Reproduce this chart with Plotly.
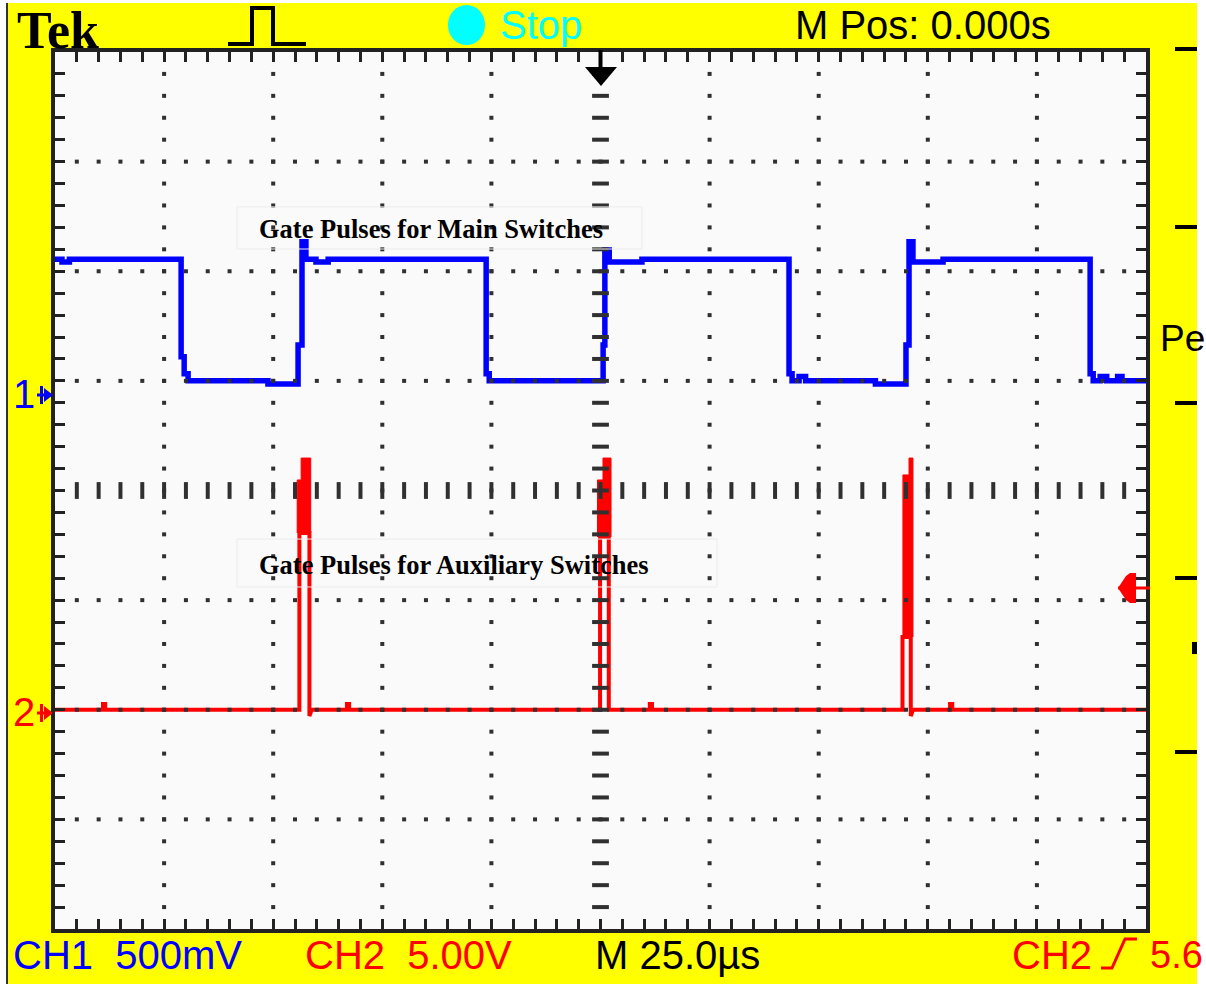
import numpy as np
import plotly.graph_objects as go

TIME_PER_DIV_US = 25.0      # M 25.0 µs
CH1_VOLTS_PER_DIV = 0.5     # CH1 500 mV/div
CH2_VOLTS_PER_DIV = 5.0     # CH2 5.00 V/div
CH1_POS_DIV = 0.87          # CH1 ground marker (divisions above centre)
CH2_POS_DIV = -2.0          # CH2 ground marker

# CH1 : gate pulses for main switches (time in µs, volts)
CH1_T = [-125.0, -123.4, -123.4, -121.7, -121.7, -96.1, -96.1, -95.4, -95.4, -94.5,
         -94.5, -76.2, -76.2, -69.3, -69.3, -68.4, -68.4, -67.5, -67.5, -65.2,
         -65.2, -62.4, -62.4, -26.2, -26.2, -25.5, -25.5, 0.6, 0.6, 1.0,
         1.0, 2.0, 2.0, 9.5, 9.5, 43.2, 43.2, 43.9, 43.9, 45.5,
         45.5, 47.0, 47.0, 63.0, 63.0, 70.0, 70.0, 70.7, 70.7, 71.6,
         71.6, 78.5, 78.5, 112.2, 112.2, 112.9, 112.9, 114.5, 114.5, 116.0,
         116.0, 118.5, 118.5, 119.5, 119.5, 125.0]
CH1_V = [0.62, 0.62, 0.607, 0.607, 0.62, 0.62, 0.175, 0.175, 0.097, 0.097,
         0.065, 0.065, 0.051, 0.051, 0.229, 0.229, 0.699, 0.699, 0.62, 0.62,
         0.607, 0.607, 0.62, 0.62, 0.097, 0.097, 0.065, 0.065, 0.229, 0.229,
         0.662, 0.662, 0.607, 0.607, 0.62, 0.62, 0.097, 0.097, 0.065, 0.065,
         0.085, 0.085, 0.065, 0.065, 0.051, 0.051, 0.229, 0.229, 0.699, 0.699,
         0.607, 0.607, 0.62, 0.62, 0.097, 0.097, 0.065, 0.065, 0.085, 0.085,
         0.065, 0.065, 0.085, 0.085, 0.065, 0.065]

# CH2 : gate pulses for auxiliary switches (time in µs, volts)
CH2_T = [-125.0, -114.0, -114.0, -113.5, -113.5, -69.0, -69.0, -66.7, -66.7, -66.2,
         -58.1, -58.1, -57.6, -57.6, -0.1, -0.1, 1.9, 1.9, 11.3, 11.3,
         11.8, 11.8, 69.2, 69.2, 71.1, 71.1, 71.6, 80.1, 80.1, 80.6,
         80.6, 125.0]
CH2_V = [0.0, 0.0, 0.26, 0.26, 0.0, 0.0, 8.06, 8.06, -0.29, 0.0,
         0.0, 0.26, 0.26, 0.0, 0.0, 7.88, 7.88, 0.0, 0.0, 0.26,
         0.26, 0.0, 0.0, 3.32, 3.32, -0.29, 0.0, 0.0, 0.26, 0.26,
         0.0, 0.0]

# solid (envelope) part of each auxiliary pulse
PULSE1_T = [-69.5, -69.5, -68.6, -68.6, -66.4, -66.4]
PULSE1_V = [8.06, 10.48, 10.48, 11.48, 11.48, 8.06]
PULSE2_T = [-0.69, -0.69, 0.57, 0.57, 2.41, 2.41]
PULSE2_V = [7.88, 10.48, 10.48, 11.48, 11.48, 7.88]
PULSE3_T = [69.3, 69.3, 70.7, 70.7, 71.6, 71.6]
PULSE3_V = [3.32, 10.71, 10.71, 11.48, 11.48, 3.32]

# ---------------- layout geometry ----------------
FIG_W, FIG_H = 1206, 984
ML, MR, MT, MB = 55, 60, 52, 55
PW = FIG_W - ML - MR
PH = FIG_H - MT - MB
N_HDIV, N_VDIV = 10, 8
X_HALF = N_HDIV / 2 * TIME_PER_DIV_US
Y_HALF = N_VDIV / 2

BLUE, RED, YEL, CYAN = "#0000ff", "#ff0000", "#ffff00", "#00ffff"
GRID = "#303030"
SCOPE_FONT = "Liberation Sans Narrow, Arial Narrow, Liberation Sans, Arial, sans-serif"
SCOPE_SIZE = 40
SERIF = "Liberation Serif, Times New Roman, serif"


def px(x, y):
    return (x - ML) / PW, 1 - (y - MT) / PH


def path(points, close=False):
    s = ""
    for i, (x, y) in enumerate(points):
        xp, yp = px(x, y)
        s += ("M" if i == 0 else "L") + f"{xp:.5f},{yp:.5f} "
    return s + ("Z" if close else "")


shapes = []
annotations = []


def add_path(points, color, width=0, fill=None, close=False):
    d = dict(type="path", xref="paper", yref="paper", path=path(points, close),
             line=dict(color=color, width=width), layer="above")
    if fill:
        d["fillcolor"] = fill
    shapes.append(d)


def add_rect(x0, y0, x1, y1, color):
    a = px(x0, y1)
    b = px(x1, y0)
    shapes.append(dict(type="rect", xref="paper", yref="paper", x0=a[0], y0=a[1],
                       x1=b[0], y1=b[1], fillcolor=color, line=dict(width=0), layer="above"))


def label(text, x, y, color, size=SCOPE_SIZE, family=SCOPE_FONT, anchor="left"):
    xp, yp = px(x, y)
    annotations.append(dict(text=text, x=xp, y=yp, xref="paper", yref="paper",
                            xanchor=anchor, yanchor="middle", showarrow=False,
                            font=dict(family=family, size=size, color=color)))


fig = go.Figure()

# waveforms
fig.add_trace(go.Scatter(x=CH1_T, y=CH1_V, yaxis="y2", mode="lines",
                         line=dict(color=BLUE, width=5.5), hoverinfo="skip"))
for pt, pv in [(PULSE1_T, PULSE1_V), (PULSE2_T, PULSE2_V), (PULSE3_T, PULSE3_V)]:
    fig.add_trace(go.Scatter(x=pt, y=pv, yaxis="y3", mode="lines", fill="toself",
                             fillcolor=RED, line=dict(color=RED, width=1), hoverinfo="skip"))
fig.add_trace(go.Scatter(x=CH2_T, y=CH2_V, yaxis="y3", mode="lines",
                         line=dict(color=RED, width=4), hoverinfo="skip"))

# graticule (on top of traces)
minor_t = np.arange(-X_HALF + TIME_PER_DIV_US / 5, X_HALF - 0.01, TIME_PER_DIV_US / 5)
minor_y = np.arange(-Y_HALF + 0.2, Y_HALF - 0.01, 0.2)
gx, gy = [], []
for k in range(-4, 5):
    if k == 0:
        continue
    t = k * TIME_PER_DIV_US
    gx += [t] * len(minor_y)
    gy += list(minor_y)
for k in [-3, -2, -1, 1, 2, 3]:
    gx += list(minor_t)
    gy += [k] * len(minor_t)
fig.add_trace(go.Scatter(x=gx, y=gy, yaxis="y4", mode="markers",
                         marker=dict(symbol="square", size=4, color=GRID, line=dict(width=0)),
                         hoverinfo="skip"))
fig.add_trace(go.Scatter(x=[0] * len(minor_y), y=minor_y, yaxis="y4", mode="markers",
                         marker=dict(symbol="line-ew", size=12, line=dict(width=4, color=GRID)),
                         hoverinfo="skip"))
fig.add_trace(go.Scatter(x=minor_t, y=[0] * len(minor_t), yaxis="y4", mode="markers",
                         marker=dict(symbol="line-ns", size=12, line=dict(width=4, color=GRID)),
                         hoverinfo="skip"))

# text boxes (in graticule divisions / µs)
for (t0, t1, y0, y1) in [(-83.3, 9.5, 2.203, 2.587), (-83.3, 26.7, -0.880, -0.443)]:
    shapes.append(dict(type="rect", xref="x", yref="y", x0=t0, x1=t1, y0=y0, y1=y1,
                       line=dict(color="#ececec", width=1), layer="above"))
annotations.append(dict(text="<b>Gate Pulses for Main Switches</b>", x=-38.8, y=2.39,
                        xref="x", yref="y", showarrow=False, xanchor="center", yanchor="middle",
                        font=dict(family=SERIF, size=26.5, color="black")))
annotations.append(dict(text="<b>Gate Pulses for Auxiliary Switches</b>", x=-33.5, y=-0.68,
                        xref="x", yref="y", showarrow=False, xanchor="center", yanchor="middle",
                        font=dict(family=SERIF, size=26.5, color="black")))

# ----- screen furniture -----
add_rect(0, 0, 6, 984, "white")
add_rect(0, 0, FIG_W, 3, "white")
add_rect(1197, 0, FIG_W, 984, "white")
add_rect(6, 3, 8, 984, "#333333")

label("<b>Tek</b>", 15, 30, "black", 52, family=SERIF)
add_path([(228, 44), (252, 44), (252, 8), (273, 8), (273, 44), (306, 44)], "black", width=4)
c0 = px(448, 45)
c1 = px(485, 5)
shapes.append(dict(type="circle", xref="paper", yref="paper", x0=c0[0], y0=c0[1], x1=c1[0], y1=c1[1],
                   fillcolor=CYAN, line=dict(width=0), layer="above"))
label("Stop", 498, 25, CYAN)
label("M Pos: 0.000s", 793, 25, "black")

# trigger position arrow
add_path([(600.5, 50), (600.5, 70)], "black", width=4)
add_path([(585, 67), (617, 67), (601, 86)], "black", width=0, fill="black", close=True)

# right-hand menu marks
for yy in [49, 227, 403, 578, 752]:
    add_path([(1175, yy), (1197, yy)], "black", width=4)
add_rect(1192, 642, 1197, 654, "black")
label("Pe", 1158, 339, "black", 37)

# trigger level marker
add_path([(1118, 588), (1150, 588)], RED, width=3)
add_path([(1118, 588), (1126, 576), (1130, 573), (1136, 573), (1136, 603), (1130, 603), (1126, 600)],
         RED, width=0, fill=RED, close=True)

# channel ground markers
for (txt, col, yy) in [("1", BLUE, 395), ("2", RED, 713)]:
    label(txt, 11, yy - 1, col)
    add_path([(37, yy), (50, yy)], col, width=3)
    add_path([(41.5, yy - 9), (41.5, yy + 9)], col, width=3)
    add_path([(44, yy - 7), (53, yy), (44, yy + 7)], col, width=0, fill=col, close=True)

# bottom status line
label("CH1  500mV", 11, 955, BLUE)
label("CH2  5.00V", 303, 955, RED)
label("M 25.0µs", 593, 955, "black")
label("CH2", 1010, 955, RED)
add_path([(1101, 968), (1112, 968), (1125, 939), (1137, 939)], RED, width=3)
label("5.6", 1148, 955, RED, 38)

axis_common = dict(showline=True, linewidth=4, linecolor="#222222", mirror="ticks",
                   ticks="inside", ticklen=10, tickwidth=3, tickcolor="#222222",
                   showticklabels=False, showgrid=False, zeroline=False, fixedrange=True)

fig.update_layout(
    width=FIG_W, height=FIG_H,
    margin=dict(l=ML, r=MR, t=MT, b=MB, pad=0),
    paper_bgcolor=YEL, plot_bgcolor="#fafafa",
    showlegend=False,
    xaxis=dict(range=[-X_HALF, X_HALF], dtick=TIME_PER_DIV_US / 5, tick0=0, **axis_common),
    yaxis=dict(range=[-Y_HALF, Y_HALF], dtick=0.2, tick0=0, **axis_common),
    yaxis2=dict(overlaying="y", visible=False, fixedrange=True,
                range=[(-Y_HALF - CH1_POS_DIV) * CH1_VOLTS_PER_DIV,
                       (Y_HALF - CH1_POS_DIV) * CH1_VOLTS_PER_DIV]),
    yaxis3=dict(overlaying="y", visible=False, fixedrange=True,
                range=[(-Y_HALF - CH2_POS_DIV) * CH2_VOLTS_PER_DIV,
                       (Y_HALF - CH2_POS_DIV) * CH2_VOLTS_PER_DIV]),
    yaxis4=dict(overlaying="y", visible=False, fixedrange=True, range=[-Y_HALF, Y_HALF]),
    shapes=shapes,
    annotations=annotations,
)

fig.write_html("out.html")
